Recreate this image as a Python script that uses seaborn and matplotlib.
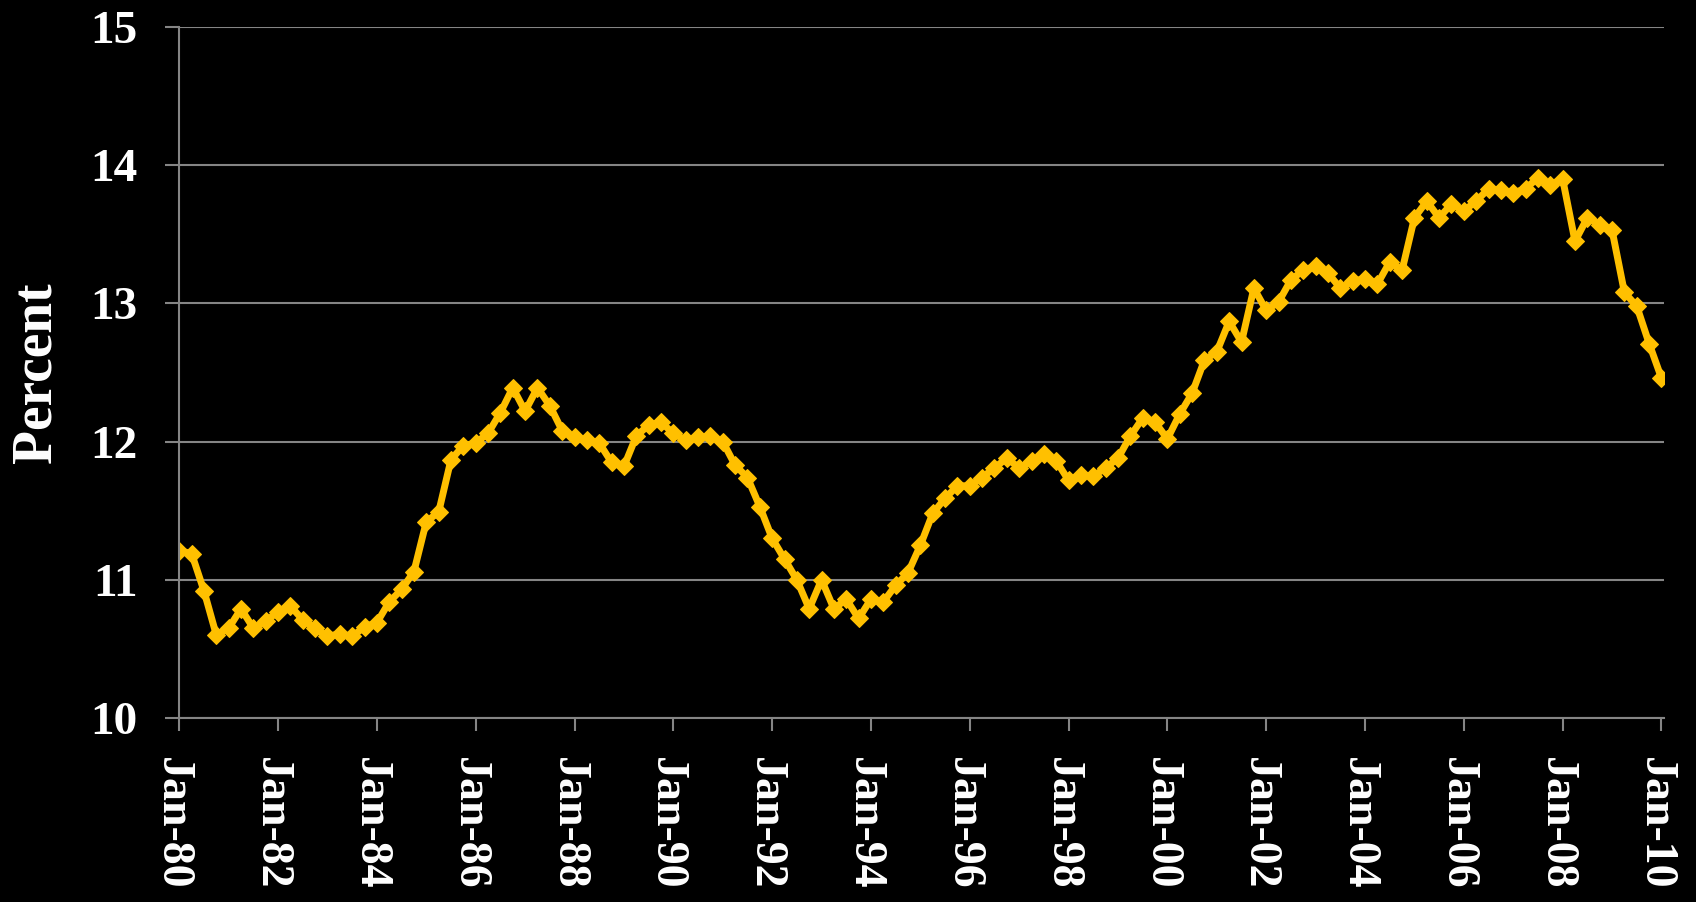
import matplotlib
matplotlib.use("Agg")
import matplotlib.pyplot as plt
import matplotlib.transforms as mtransforms
import seaborn as sns
import pandas as pd
import numpy as np

# Quarterly values, Jan-80 .. Jan-10
values = [
    11.21, 11.19, 10.92, 10.60, 10.65, 10.79, 10.65, 10.70, 10.77, 10.81,
    10.71, 10.65, 10.59, 10.61, 10.59, 10.66, 10.69, 10.84, 10.93, 11.06,
    11.42, 11.49, 11.87, 11.97, 11.99, 12.06, 12.21, 12.39, 12.22, 12.39,
    12.26, 12.08, 12.03, 12.01, 11.99, 11.85, 11.82, 12.04, 12.12, 12.14,
    12.06, 12.01, 12.03, 12.04, 12.00, 11.83, 11.74, 11.53, 11.30, 11.15,
    11.00, 10.79, 11.00, 10.79, 10.86, 10.72, 10.86, 10.84, 10.96, 11.05,
    11.25, 11.48, 11.59, 11.68, 11.68, 11.74, 11.81, 11.88, 11.81, 11.86,
    11.91, 11.86, 11.72, 11.76, 11.75, 11.81, 11.88, 12.04, 12.17, 12.14,
    12.02, 12.20, 12.35, 12.59, 12.65, 12.87, 12.72, 13.11, 12.95, 13.01,
    13.17, 13.24, 13.27, 13.22, 13.11, 13.16, 13.18, 13.14, 13.30, 13.24,
    13.62, 13.74, 13.62, 13.72, 13.67, 13.74, 13.83, 13.82, 13.80, 13.83,
    13.91, 13.86, 13.90, 13.45, 13.62, 13.57, 13.53, 13.08, 12.98, 12.71,
    12.46,
]
quarter = list(range(len(values)))
tick_positions = list(range(0, 121, 8))
tick_labels = ["Jan-80", "Jan-82", "Jan-84", "Jan-86", "Jan-88", "Jan-90",
               "Jan-92", "Jan-94", "Jan-96", "Jan-98", "Jan-00", "Jan-02",
               "Jan-04", "Jan-06", "Jan-08", "Jan-10"]
y_ticks = [10, 11, 12, 13, 14, 15]

df = pd.DataFrame({"quarter": quarter, "value": values})

sns.set_theme(style="dark")
plt.rcParams["font.family"] = ["Liberation Serif", "DejaVu Serif"]
plt.rcParams["font.weight"] = "bold"

fig = plt.figure(figsize=(16.96, 9.02), dpi=100, facecolor="black")
ax = fig.add_axes([0.1057, 0.204, 0.9811 - 0.1057, 0.970 - 0.204])
ax.set_facecolor("black")

sns.lineplot(data=df, x="quarter", y="value", ax=ax, color="#FFC000",
             linewidth=5.0, marker="D", markersize=9.5,
             markeredgecolor="#FFC000", markerfacecolor="#FFC000")

ax.set_xlim(0, 120.2)
ax.set_ylim(10, 15)
ax.set_yticks(y_ticks)
ax.set_yticklabels([str(v) for v in y_ticks])
ax.set_xticks(tick_positions)
ax.set_xticklabels(tick_labels, rotation=270, ha="center", va="top")

ax.yaxis.grid(True, color="#858585", linewidth=1.5)
ax.xaxis.grid(False)
ax.set_axisbelow(True)

for s in ["top", "right"]:
    ax.spines[s].set_visible(False)
for s in ["left", "bottom"]:
    ax.spines[s].set_visible(True)
    ax.spines[s].set_color("#858585")
    ax.spines[s].set_linewidth(1.5)

ax.tick_params(axis="y", which="major", left=True, length=10, width=1.5,
               color="#858585", pad=20, labelsize=34, labelcolor="white")
ax.tick_params(axis="x", which="major", bottom=True, length=9, width=1.5,
               color="#858585", pad=19, labelsize=33, labelcolor="white")
for lab in ax.get_xticklabels() + ax.get_yticklabels():
    lab.set_fontweight("bold")

shift = mtransforms.ScaledTranslation(-5 / 72, 0, fig.dpi_scale_trans)
for lab in ax.get_xticklabels():
    lab.set_transform(lab.get_transform() + shift)

ax.set_xlabel("")
ax.set_ylabel("Percent", fontsize=40, fontweight="bold", color="white", labelpad=20)

fig.savefig("out.png", dpi=100, facecolor="black")
